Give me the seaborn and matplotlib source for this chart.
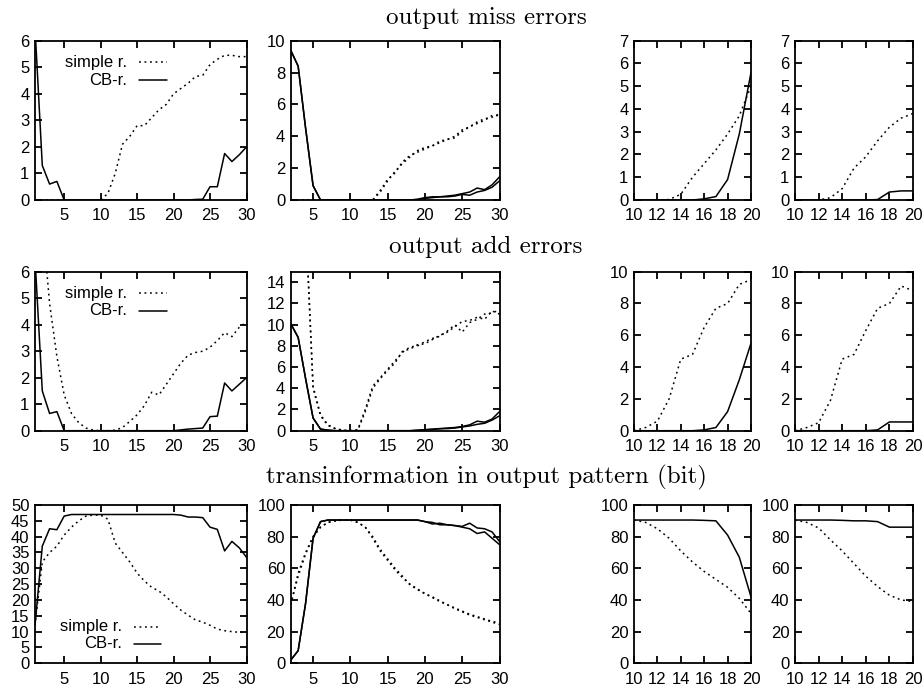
import matplotlib
matplotlib.use("Agg")
import matplotlib.pyplot as plt
import seaborn as sns

# ---------------- data ----------------
x_c1 = list(range(1, 31))
x_c2 = list(range(2, 31))
x_c34 = list(range(10, 21))

# output miss errors
miss_c1_simple = [0, 0, 0, 0, 0, 0, 0, 0, 0, 0, 0.25, 1.0, 2.1, 2.4, 2.8, 2.8, 3.1, 3.4, 3.6, 4.0,
                  4.2, 4.4, 4.65, 4.7, 5.1, 5.3, 5.45, 5.45, 5.4, 5.4]
miss_c1_cb = [6.5, 1.3, 0.6, 0.7, 0, 0, 0, 0, 0, 0, 0, 0, 0, 0, 0, 0, 0, 0, 0, 0,
              0, 0, 0.02, 0.03, 0.5, 0.5, 1.75, 1.45, 1.7, 2.0]
miss_c2_simple_a = [0, 0, 0, 0, 0, 0, 0, 0, 0, 0, 0, 0, 0.6, 1.3, 1.7, 2.4, 2.8, 3.0, 3.2, 3.4,
                    3.6, 3.8, 4.0, 4.4, 4.6, 4.9, 5.1, 5.2, 5.4]
miss_c2_simple_b = [0, 0, 0, 0, 0, 0, 0, 0, 0, 0, 0, 0, 0.5, 1.2, 1.8, 2.3, 2.7, 3.1, 3.3, 3.4,
                    3.7, 3.8, 3.9, 4.3, 4.6, 4.8, 5.0, 5.3, 5.3]
miss_c2_cb_a = [9.4, 8.4, 4.5, 0.9, 0, 0, 0, 0, 0, 0, 0, 0, 0, 0, 0, 0, 0, 0.05, 0.15, 0.2,
                0.2, 0.25, 0.3, 0.4, 0.5, 0.75, 0.65, 0.95, 1.45]
miss_c2_cb_b = [9.4, 8.4, 4.5, 0.9, 0, 0, 0, 0, 0, 0, 0, 0, 0, 0, 0, 0, 0, 0.02, 0.1, 0.15,
                0.2, 0.2, 0.25, 0.35, 0.3, 0.5, 0.6, 0.8, 1.2]
miss_c3_simple = [0, 0, 0, 0.02, 0.25, 1.0, 1.6, 2.2, 2.9, 3.7, 5.0]
miss_c3_cb = [0, 0, 0, 0, 0, 0, 0.05, 0.15, 0.9, 2.9, 5.6]
miss_c4_simple = [0, 0, 0, 0.1, 0.5, 1.4, 1.9, 2.6, 3.2, 3.6, 3.8]
miss_c4_cb = [0, 0, 0, 0, 0, 0, 0, 0.02, 0.35, 0.4, 0.4]

# output add errors
add_c1_simple = [12, 8, 4.8, 2.8, 1.35, 0.65, 0.3, 0.1, 0.02, 0, 0, 0.02, 0.12, 0.35, 0.6, 0.95, 1.45, 1.35,
                 1.75, 2.15, 2.55, 2.85, 2.95, 3.0, 3.15, 3.4, 3.7, 3.55, 3.9, 4.1]
add_c1_cb = [6.5, 1.5, 0.65, 0.72, 0, 0, 0, 0, 0, 0, 0, 0, 0, 0, 0, 0, 0, 0, 0, 0,
             0.03, 0.06, 0.08, 0.1, 0.53, 0.55, 1.8, 1.5, 1.75, 2.0]
add_c2_simple_a = [40, 28, 20, 4.0, 1.4, 0.5, 0.18, 0.03, 0, 0.05, 1.8, 4.0, 4.9, 5.7, 6.4, 7.5, 7.7, 8.1,
                   8.2, 8.6, 9.0, 9.3, 9.8, 10.3, 10.4, 10.7, 10.5, 11.3, 11.0]
add_c2_simple_b = [40, 28, 20, 4.2, 1.5, 0.55, 0.2, 0.05, 0, 0.1, 2.0, 4.2, 5.0, 5.8, 6.6, 7.4, 7.9, 8.0,
                   8.4, 8.7, 8.9, 9.4, 10.0, 9.3, 10.2, 10.5, 11.0, 11.1, 11.4]
add_c2_cb_a = [10.1, 8.8, 4.9, 1.2, 0.15, 0.05, 0, 0, 0, 0, 0, 0, 0, 0, 0, 0, 0, 0.05, 0.1, 0.15,
               0.2, 0.25, 0.3, 0.4, 0.55, 0.9, 0.8, 1.1, 1.8]
add_c2_cb_b = [10.1, 8.8, 4.9, 1.2, 0.15, 0.05, 0, 0, 0, 0, 0, 0, 0, 0, 0, 0, 0, 0.03, 0.08, 0.12,
               0.18, 0.2, 0.25, 0.35, 0.45, 0.6, 0.7, 1.0, 1.4]
add_c3_simple = [0.0, 0.2, 0.6, 2.0, 4.5, 4.8, 6.5, 7.7, 8.0, 9.2, 9.5]
add_c3_cb = [0, 0, 0, 0, 0, 0, 0.05, 0.2, 1.2, 3.2, 5.5]
add_c4_simple = [0, 0.2, 0.5, 1.9, 4.5, 4.8, 6.3, 7.7, 8.0, 9.1, 8.8]
add_c4_cb = [0, 0, 0, 0, 0, 0, 0, 0.05, 0.55, 0.55, 0.55]

# transinformation in output pattern (bit)
ti_c1_simple = [12, 32, 35, 37, 40.5, 43, 45, 46.5, 46.8, 46.8, 45.5, 38, 35, 32, 28.5, 26, 24, 22.8, 21,
                18.8, 16.8, 15.2, 13.7, 13, 12, 10.8, 10.3, 10, 9.8, 9.8]
ti_c1_cb = [12, 37, 42.5, 42.2, 46.5, 47, 47, 47, 47, 47, 47, 47, 47, 47, 47, 47, 47, 47, 47, 47,
            46.8, 46.2, 46.2, 46.0, 43, 42.3, 35.5, 38.5, 36.5, 33.5]
ti_c2_simple_a = [37, 57, 70, 80, 86, 89, 90, 90.5, 90.5, 89, 86, 80, 72, 66, 60, 55, 49.5, 46.5, 44, 42,
                  39.5, 37, 35, 33, 31, 29.5, 28, 26.5, 25.5]
ti_c2_simple_b = [37, 55, 69, 80, 86, 89, 90, 90.5, 90.5, 89, 86, 79, 71, 65, 59, 54, 50, 47, 44, 41.5,
                  39, 37, 34.5, 32.5, 30.5, 29, 27.5, 26, 24.5]
ti_c2_cb_a = [2, 8, 38, 79, 89.5, 90.5, 90.5, 90.5, 90.5, 90.5, 90.5, 90.5, 90.5, 90.5, 90.5, 90.5, 90.5,
              90.5, 89.5, 88, 88.5, 87.5, 87, 86.5, 88.5, 85.5, 85, 83, 77]
ti_c2_cb_b = [2, 8, 38, 79, 89.5, 90.5, 90.5, 90.5, 90.5, 90.5, 90.5, 90.5, 90.5, 90.5, 90.5, 90.5, 90.5,
              90.5, 89.5, 89, 87.5, 87.5, 87, 86, 85, 82, 83, 79, 75]
ti_c3_simple = [90.5, 89, 85, 79, 71, 64, 58, 53, 48, 41, 31.5]
ti_c3_cb = [90.5, 90.5, 90.5, 90.5, 90.5, 90.5, 90.3, 90, 81, 67, 42]
ti_c4_simple = [90.5, 89, 85.5, 78, 71, 63, 55, 48.5, 43, 40, 39]
ti_c4_cb = [90.5, 90.5, 90.5, 90.5, 90.3, 90, 90, 89.5, 86, 86, 86]

row_titles = ["output miss errors", "output add errors", "transinformation in output pattern (bit)"]
legend_labels = ["simple r.", "CB-r."]

# ---------------- style ----------------
sns.set_theme(style="white")
plt.rcParams["font.family"] = ["Liberation Sans", "DejaVu Sans"]

W, H = 924, 693
fig = plt.figure(figsize=(W / 100, H / 100), dpi=100)

col_px = [(35, 246.5), (290.7, 499.5), (634, 751), (795, 913)]
row_px = [(40.7, 200), (271.7, 430.7), (505, 663.3)]

DOT = (0, (1.2, 2.4))
LW_SOLID = 1.1
LW_DOT = 1.1
TICK_FS = 12

panels = [
    # row 0
    [dict(x=x_c1, simple=[miss_c1_simple], cb=[miss_c1_cb], ylim=(0, 6), yt=list(range(0, 7)), xlim=(1, 30), xt=[5, 10, 15, 20, 25, 30]),
     dict(x=x_c2, simple=[miss_c2_simple_a, miss_c2_simple_b], cb=[miss_c2_cb_a, miss_c2_cb_b], ylim=(0, 10), yt=list(range(0, 11, 2)), xlim=(2, 30), xt=[5, 10, 15, 20, 25, 30]),
     dict(x=x_c34, simple=[miss_c3_simple], cb=[miss_c3_cb], ylim=(0, 7), yt=list(range(0, 8)), xlim=(10, 20), xt=list(range(10, 21, 2))),
     dict(x=x_c34, simple=[miss_c4_simple], cb=[miss_c4_cb], ylim=(0, 7), yt=list(range(0, 8)), xlim=(10, 20), xt=list(range(10, 21, 2)))],
    # row 1
    [dict(x=x_c1, simple=[add_c1_simple], cb=[add_c1_cb], ylim=(0, 6), yt=list(range(0, 7)), xlim=(1, 30), xt=[5, 10, 15, 20, 25, 30]),
     dict(x=x_c2, simple=[add_c2_simple_a, add_c2_simple_b], cb=[add_c2_cb_a, add_c2_cb_b], ylim=(0, 15), yt=list(range(0, 15, 2)), xlim=(2, 30), xt=[5, 10, 15, 20, 25, 30]),
     dict(x=x_c34, simple=[add_c3_simple], cb=[add_c3_cb], ylim=(0, 10), yt=list(range(0, 11, 2)), xlim=(10, 20), xt=list(range(10, 21, 2))),
     dict(x=x_c34, simple=[add_c4_simple], cb=[add_c4_cb], ylim=(0, 10), yt=list(range(0, 11, 2)), xlim=(10, 20), xt=list(range(10, 21, 2)))],
    # row 2
    [dict(x=x_c1, simple=[ti_c1_simple], cb=[ti_c1_cb], ylim=(0, 50), yt=list(range(0, 51, 5)), xlim=(1, 30), xt=[5, 10, 15, 20, 25, 30]),
     dict(x=x_c2, simple=[ti_c2_simple_a, ti_c2_simple_b], cb=[ti_c2_cb_a, ti_c2_cb_b], ylim=(0, 100), yt=list(range(0, 101, 20)), xlim=(2, 30), xt=[5, 10, 15, 20, 25, 30]),
     dict(x=x_c34, simple=[ti_c3_simple], cb=[ti_c3_cb], ylim=(0, 100), yt=list(range(0, 101, 20)), xlim=(10, 20), xt=list(range(10, 21, 2))),
     dict(x=x_c34, simple=[ti_c4_simple], cb=[ti_c4_cb], ylim=(0, 100), yt=list(range(0, 101, 20)), xlim=(10, 20), xt=list(range(10, 21, 2)))],
]

for r, row in enumerate(panels):
    top, bot = row_px[r]
    for c, p in enumerate(row):
        left, right = col_px[c]
        ax = fig.add_axes([left / W, 1 - bot / H, (right - left) / W, (bot - top) / H])
        ax.set_facecolor("white")
        for ys in p["simple"]:
            sns.lineplot(x=p["x"], y=ys, ax=ax, color="black", linestyle=DOT, linewidth=LW_DOT)
        for ys in p["cb"]:
            sns.lineplot(x=p["x"], y=ys, ax=ax, color="black", linestyle="-", linewidth=LW_SOLID)
        ax.set_xlim(*p["xlim"])
        ax.set_ylim(*p["ylim"])
        ax.set_xticks(p["xt"])
        ax.set_yticks(p["yt"])
        ax.set_xlabel("")
        ax.set_ylabel("")
        for s in ax.spines.values():
            s.set_visible(True)
            s.set_color("black")
            s.set_linewidth(1.3)
        ax.tick_params(axis="both", which="major", direction="in", length=5, width=1.3,
                       top=True, right=True, bottom=True, left=True,
                       labelsize=TICK_FS, colors="black")
        ax.tick_params(axis="x", pad=6)
        ax.tick_params(axis="y", pad=4)
        ax.grid(False)

        if c == 0:
            # gnuplot-style key: right-aligned text followed by a line sample
            if r < 2:
                ky = [0.866, 0.753]
                tx, l0, l1 = 0.437, 0.49, 0.625
            else:
                ky = [0.231, 0.122]
                tx, l0, l1 = 0.413, 0.47, 0.596
            styles = [(DOT, LW_DOT), ("-", LW_SOLID)]
            for lab, yy, (ls, lw) in zip(legend_labels, ky, styles):
                ax.text(tx, yy, lab, transform=ax.transAxes, ha="right", va="center",
                        fontsize=TICK_FS, color="black")
                ax.plot([l0, l1], [yy, yy], transform=ax.transAxes, color="black",
                        linestyle=ls, linewidth=lw, clip_on=False)

title_y = [1 - 24 / H, 1 - 253.3 / H, 1 - 483.3 / H]
for t, yy in zip(row_titles, title_y):
    fig.text(486 / W, yy, t, ha="center", va="baseline", fontsize=18, family="cmr10", color="black")

fig.savefig("out.png", dpi=100, facecolor="white")
